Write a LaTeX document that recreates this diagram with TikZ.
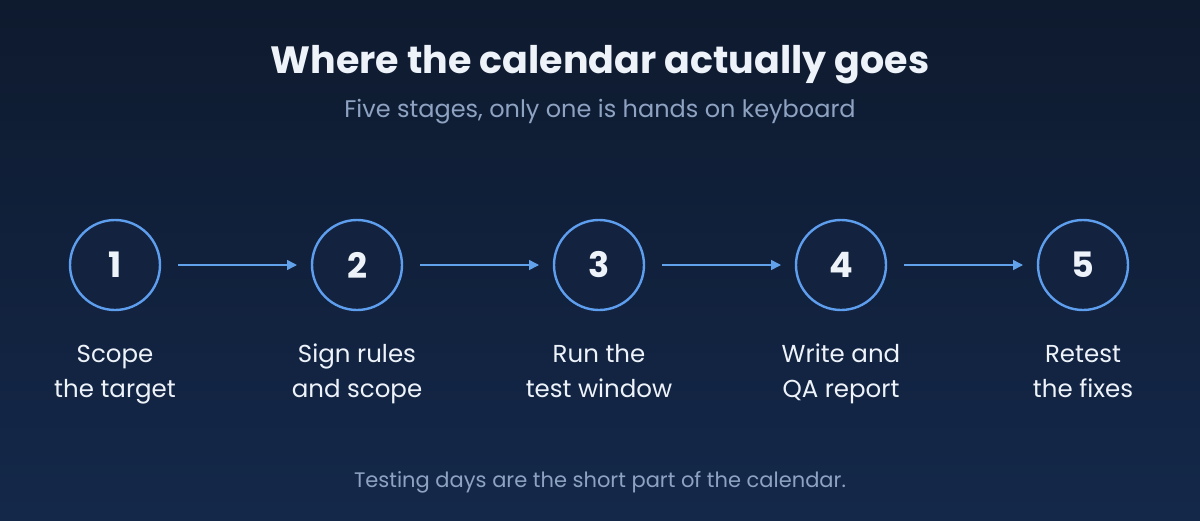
\documentclass[tikz,border=0pt]{standalone}
\usepackage{fontspec}
\setmainfont{Poppins}
\usetikzlibrary{positioning,arrows.meta}
\definecolor{bgtop}{HTML}{0E1A2E}
\definecolor{bgbot}{HTML}{14284A}
\definecolor{ringblue}{HTML}{5E9EEE}
\definecolor{ringfill}{HTML}{13223E}
\definecolor{arrowblue}{HTML}{62A2EA}
\definecolor{softtext}{HTML}{8EA2C2}
\definecolor{brighttext}{HTML}{EEF3FA}

\begin{document}
\begin{tikzpicture}[x=1pt,y=-1pt,
  stage/.style={circle,draw=ringblue,fill=ringfill,line width=2.4pt,minimum size=90pt,inner sep=0pt,outer sep=0pt,
    text=brighttext,font=\fontsize{35}{35}\selectfont\bfseries},
  caption/.style={align=center,text=brighttext,inner sep=0pt,text height=52pt,font=\fontsize{24.5}{35}\selectfont},
  flow/.style={draw=arrowblue,line width=1.5pt,-{Triangle[length=10pt,width=10pt]},shorten <=18pt,shorten >=15pt}]
\fill[top color=bgtop,bottom color=bgbot] (0,0) rectangle (1200,520);
\useasboundingbox (0,0) rectangle (1200,520);

\node[anchor=base,text=brighttext,font=\fontsize{38}{38}\selectfont\bfseries] (title) at (600,73) {Where the calendar actually goes};
\node[anchor=base,text=softtext,font=\fontsize{24}{26}\selectfont] (sub) at (600,117) {Five stages, only one is hands on keyboard};

\node[stage] (s1) at (115,265) {1};
\node[stage,right=152pt of s1] (s2) {2};
\node[stage,right=152pt of s2] (s3) {3};
\node[stage,right=152pt of s3] (s4) {4};
\node[stage,right=152pt of s4] (s5) {5};

\foreach \a/\b in {s1/s2,s2/s3,s3/s4,s4/s5}
  \draw[flow] (\a) -- (\b);

\node[caption,below=35pt of s1] (l1) {Scope\\the target};
\node[caption,below=35pt of s2] (l2) {Sign rules\\and scope};
\node[caption,below=35pt of s3] (l3) {Run the\\test window};
\node[caption,below=35pt of s4] (l4) {Write and\\QA report};
\node[caption,below=35pt of s5] (l5) {Retest\\the fixes};

\node[anchor=base,text=softtext,font=\fontsize{21}{24}\selectfont] (foot) at (600,487) {Testing days are the short part of the calendar.};
\end{tikzpicture}
\end{document}
